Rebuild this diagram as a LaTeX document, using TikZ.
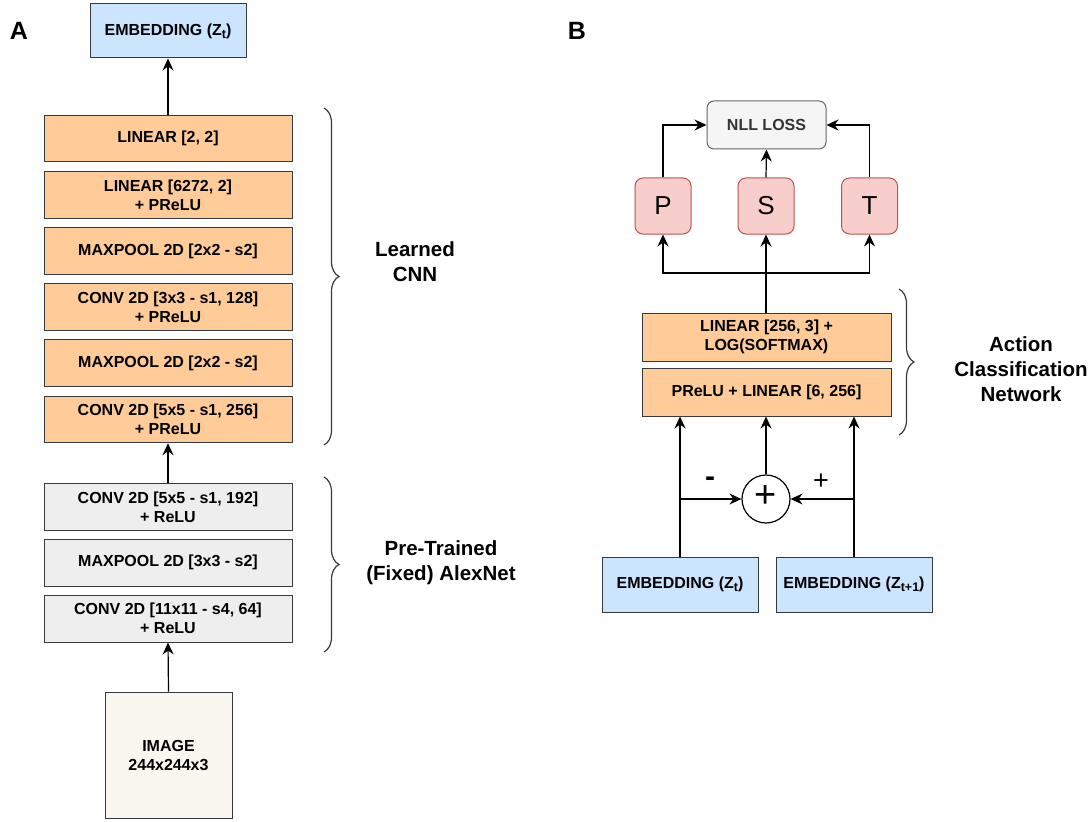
\documentclass[tikz,border=0pt]{standalone}
\usepackage{fontspec}
\setmainfont{Liberation Sans}
\usetikzlibrary{arrows.meta,decorations.pathreplacing}
\definecolor{orfill}{HTML}{FFCC99}
\definecolor{blfill}{HTML}{CCE5FF}
\definecolor{gyfill}{HTML}{EEEEEE}
\definecolor{imfill}{HTML}{F9F7ED}
\definecolor{rdfill}{HTML}{F8CECC}
\definecolor{rdline}{HTML}{B85450}
\definecolor{dk}{HTML}{36393D}
\definecolor{nllfill}{HTML}{F5F5F5}
\definecolor{nllline}{HTML}{666666}
\definecolor{nlltext}{HTML}{333333}
% subscript used in the embedding labels
\newcommand{\lowidx}[1]{\raisebox{-0.35ex}{\fontsize{12.5}{12.5}\selectfont #1}}
\tikzset{
  box/.style={draw=dk, line width=1pt, align=center, inner sep=0pt,
    font=\fontsize{16}{19}\selectfont\bfseries},
  orbox/.style={box, fill=orfill, minimum width=248pt, minimum height=46.5pt},
  gybox/.style={box, fill=gyfill, minimum width=248pt, minimum height=47pt},
  blbox/.style={box, fill=blfill},
  letter/.style={draw=rdline, fill=rdfill, rounded corners=8pt, line width=1pt,
    minimum width=56pt, minimum height=56pt, inner sep=0pt,
    font=\fontsize{26}{26}\selectfont},
  arr/.style={line width=1.2pt, -{Stealth[length=12pt,width=11pt,inset=4pt]}},
  ln/.style={line width=1.2pt},
  brc/.style={draw=dk, line width=1.2pt, decorate,
    decoration={brace, amplitude=15pt, raise=0pt}},
  side/.style={align=center, font=\fontsize{20.5}{25}\selectfont\bfseries},
  panel/.style={font=\fontsize{25}{25}\selectfont\bfseries}
}
\begin{document}
\begin{tikzpicture}[x=1pt, y=-1pt]
\useasboundingbox (0,0) rectangle (1091,821);

% ---------- panel A: encoder ----------
\node[panel] (labA) at (19,31) {A};
\node[blbox, minimum width=156pt, minimum height=54pt] (embA) at (168,31) {EMBEDDING (Z\lowidx{t})};

\node[orbox] (lin1) at (168,138.5) {LINEAR [2, 2]};
\node[orbox] (lin2) at (168,195) {LINEAR [6272, 2]\\+ PReLU};
\node[orbox] (mp1) at (168,251) {MAXPOOL 2D [2x2 - s2]};
\node[orbox] (cv3) at (168,307) {CONV 2D [3x3 - s1, 128]\\+ PReLU};
\node[orbox] (mp2) at (168,363) {MAXPOOL 2D [2x2 - s2]};
\node[orbox] (cv5) at (168,419.5) {CONV 2D [5x5 - s1, 256]\\+ PReLU};

\node[gybox] (gc5) at (168,507) {CONV 2D [5x5 - s1, 192]\\+ ReLU};
\node[gybox] (gmp) at (168,562.5) {MAXPOOL 2D [3x3 - s2]};
\node[gybox] (gc11) at (168,618.5) {CONV 2D [11x11 - s4, 64]\\+ ReLU};

\node[box, fill=imfill, minimum width=127pt, minimum height=126pt] (img) at (168.5,755) {IMAGE\\244x244x3};

\draw[arr] (lin1.north) -- (embA.south);
\draw[arr] (gc5.north) -- (cv5.south);
\draw[arr] (img.north) -- (gc11.south);

\draw[brc] (324,108) -- (324,445);
\node[side] (lcnn) at (415,262) {Learned\\CNN};
\draw[brc] (324,477) -- (324,652);
\node[side] (ptan) at (441,563) {Pre-Trained\\(Fixed) AlexNet};

% ---------- panel B: action classifier ----------
\node[panel] (labB) at (577,31) {B};

\node[draw=nllline, fill=nllfill, rounded corners=7pt, line width=1pt,
  minimum width=119pt, minimum height=48pt, inner sep=0pt, text=nlltext,
  font=\fontsize{16}{19}\selectfont\bfseries] (nll) at (766.5,125) {NLL LOSS};

\node[letter] (P) at (663,206) {P};
\node[letter] (S) at (766,206) {S};
\node[letter] (T) at (869.5,206) {T};

\node[orbox, minimum width=249pt, minimum height=48pt] (lin3) at (766.5,337) {LINEAR [256, 3] +\\LOG(SOFTMAX)};
\node[orbox, minimum width=249pt, minimum height=48pt] (prl) at (766.5,392) {PReLU + LINEAR [6, 256]};

\node[draw, circle, line width=1.2pt, minimum size=48pt, inner sep=0pt] (sum) at (766,499) {};
\node[font=\fontsize{38}{38}\selectfont] (plus) at (766,497) {+};

\node[blbox, minimum width=156pt, minimum height=55pt] (ez) at (680,584.5) {EMBEDDING (Z\lowidx{t})};
\node[blbox, minimum width=156pt, minimum height=55pt] (ez1) at (854,584.5) {EMBEDDING (Z\lowidx{t+1})};

\draw[arr] (P.north) |- (nll.west);
\draw[arr] (T.north) |- (nll.east);
\draw[arr] (S.north) -- (nll.south);

\coordinate (split) at (766,273);
\draw[ln] (lin3.north -| S) -- (split);
\draw[arr] (split) -| (P.south);
\draw[arr] (split) -| (T.south);
\draw[arr] (split) -- (S.south);

\draw[arr] (ez.north) -- (ez.north |- prl.south);
\draw[arr] (ez1.north) -- (ez1.north |- prl.south);
\draw[arr] (sum.north) -- (sum |- prl.south);
\draw[arr] (ez.north |- sum) -- (sum.west);
\draw[arr] (ez1.north |- sum) -- (sum.east);

\node[font=\fontsize{30}{30}\selectfont\bfseries] (minus) at (710,482) {-};
\node[font=\fontsize{27}{27}\selectfont] (plusr) at (821,482) {+};

\draw[brc] (899,289) -- (899,435);
\node[side] (acn) at (1021,369) {Action\\Classification\\Network};
\end{tikzpicture}
\end{document}
